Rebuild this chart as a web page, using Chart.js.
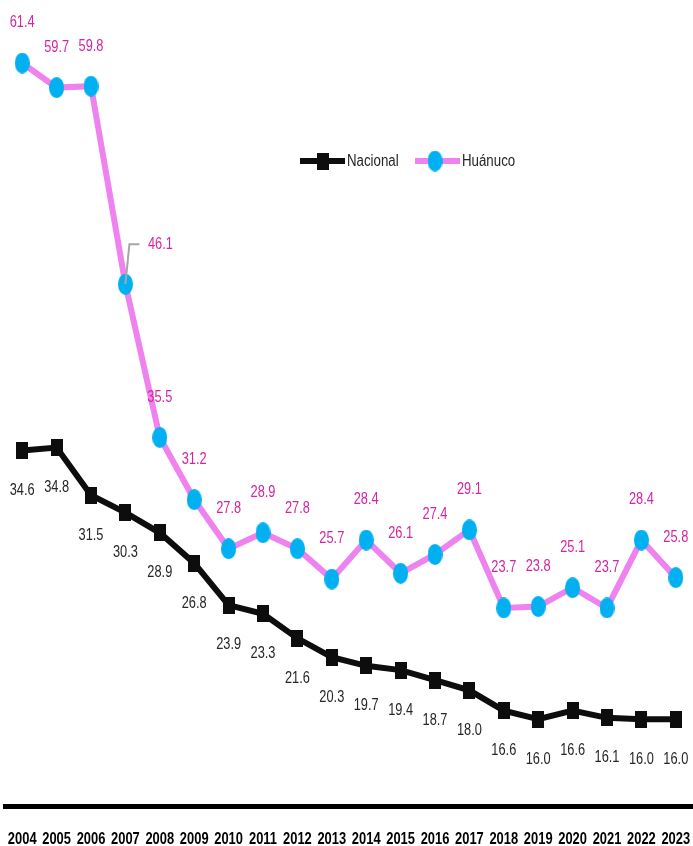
<!DOCTYPE html>
<html>
<head>
<meta charset="utf-8">
<script src="https://cdn.jsdelivr.net/npm/chart.js@4.4.1/dist/chart.umd.min.js"></script>
<style>
  html, body { margin: 0; padding: 0; background: #fff; }
  #wrap { width: 693px; height: 846px; position: relative; }
</style>
</head>
<body>
<div id="wrap"><canvas id="chart"></canvas></div>
<script>
const years = ['2004', '2005', '2006', '2007', '2008', '2009', '2010', '2011', '2012', '2013',
  '2014', '2015', '2016', '2017', '2018', '2019', '2020', '2021', '2022', '2023'];
const nacional = [34.6, 34.8, 31.5, 30.3, 28.9, 26.8, 23.9, 23.3, 21.6, 20.3,
  19.7, 19.4, 18.7, 18.0, 16.6, 16.0, 16.6, 16.1, 16.0, 16.0];
const huanuco = [61.4, 59.7, 59.8, 46.1, 35.5, 31.2, 27.8, 28.9, 27.8, 25.7,
  28.4, 26.1, 27.4, 29.1, 23.7, 23.8, 25.1, 23.7, 28.4, 25.8];

const FONT = '"Liberation Sans", Arial, sans-serif';
const BLACK = '#0d0d0d';
const VIOLET = '#ee82ee';
const BLUE = '#00b0f0';
const PINK_TXT = '#d6249f';
const DARK_TXT = '#262626';

// Excel markers look squeezed sideways, so draw them as small images
function ellipseMarker(w, h, color) {
  const c = document.createElement('canvas');
  c.width = w; c.height = h;
  const g = c.getContext('2d');
  g.fillStyle = color;
  g.beginPath();
  g.ellipse(w / 2, h / 2, w / 2, h / 2, 0, 0, Math.PI * 2);
  g.fill();
  return c;
}
function rectMarker(w, h, color) {
  const c = document.createElement('canvas');
  c.width = w; c.height = h;
  const g = c.getContext('2d');
  g.fillStyle = color;
  g.fillRect(0, 0, w, h);
  return c;
}
const squareImg = rectMarker(12, 17, BLACK);
const dotImg = ellipseMarker(15, 21, BLUE);

// narrow text (the original uses a condensed font)
function narrowText(ctx, txt, x, y, sx) {
  ctx.save();
  ctx.translate(x, y);
  ctx.scale(sx, 1);
  ctx.fillText(txt, 0, 0);
  ctx.restore();
}

const valueLabels = {
  id: 'valueLabels',
  afterDatasetsDraw(chart) {
    const ctx = chart.ctx;
    ctx.save();
    ctx.font = '16px ' + FONT;
    ctx.textAlign = 'center';
    ctx.textBaseline = 'middle';
    chart.data.datasets.forEach((ds, di) => {
      const meta = chart.getDatasetMeta(di);
      const below = di === 0;
      meta.data.forEach((pt, i) => {
        const txt = ds.data[i].toFixed(1);
        let x = pt.x;
        let y = below ? pt.y + 40 : pt.y - 40;
        if (!below && i === 3) {
          // moved label with leader line
          ctx.strokeStyle = '#a6a6a6';
          ctx.lineWidth = 2;
          ctx.beginPath();
          ctx.moveTo(pt.x, pt.y);
          ctx.lineTo(pt.x + 4, pt.y - 40);
          ctx.lineTo(pt.x + 14, pt.y - 40);
          ctx.stroke();
          x = pt.x + 35;
        }
        ctx.fillStyle = below ? DARK_TXT : PINK_TXT;
        narrowText(ctx, txt, x, y, 0.8);
      });
    });
    ctx.restore();
  },
  afterDraw(chart) {
    const ctx = chart.ctx;
    ctx.save();
    // year labels under the axis
    const xs = chart.scales.x;
    ctx.fillStyle = '#000';
    ctx.font = 'bold 17px ' + FONT;
    ctx.textAlign = 'center';
    ctx.textBaseline = 'middle';
    years.forEach((yr, i) => narrowText(ctx, yr, xs.getPixelForValue(i), 839, 0.76));

    // legend
    const y = 161;
    ctx.strokeStyle = BLACK;
    ctx.lineWidth = 6;
    ctx.beginPath(); ctx.moveTo(300, y); ctx.lineTo(345, y); ctx.stroke();
    ctx.drawImage(squareImg, 323 - 6, y - 8.5);
    ctx.strokeStyle = VIOLET;
    ctx.beginPath(); ctx.moveTo(415, y); ctx.lineTo(460, y); ctx.stroke();
    ctx.drawImage(dotImg, 435 - 7.5, y - 10.5);
    ctx.fillStyle = DARK_TXT;
    ctx.font = '16px ' + FONT;
    ctx.textAlign = 'left';
    narrowText(ctx, 'Nacional', 347, y + 1, 0.83);
    narrowText(ctx, 'Huánuco', 462, y + 1, 0.83);
    ctx.restore();
  }
};

new Chart(document.getElementById('chart'), {
  type: 'line',
  data: {
    labels: years,
    datasets: [
      {
        label: 'Nacional',
        data: nacional,
        borderColor: BLACK,
        borderWidth: 6,
        pointStyle: squareImg,
        pointRadius: 8,
        tension: 0,
      },
      {
        label: 'Huánuco',
        data: huanuco,
        borderColor: VIOLET,
        borderWidth: 6,
        pointStyle: dotImg,
        pointRadius: 8,
        tension: 0,
      },
    ],
  },
  options: {
    responsive: true,
    maintainAspectRatio: false,
    animation: false,
    layout: { autoPadding: false, padding: { left: 5, right: 0, top: 11, bottom: 40 } },
    plugins: {
      legend: { display: false },
      tooltip: { enabled: false },
    },
    scales: {
      x: {
        offset: true,
        grid: { display: false, drawTicks: false },
        border: { display: true, color: '#000', width: 5 },
        ticks: { display: false },
      },
      y: {
        display: false,
        min: 10,
        max: 65,
      },
    },
  },
  plugins: [valueLabels],
});
</script>
</body>
</html>
